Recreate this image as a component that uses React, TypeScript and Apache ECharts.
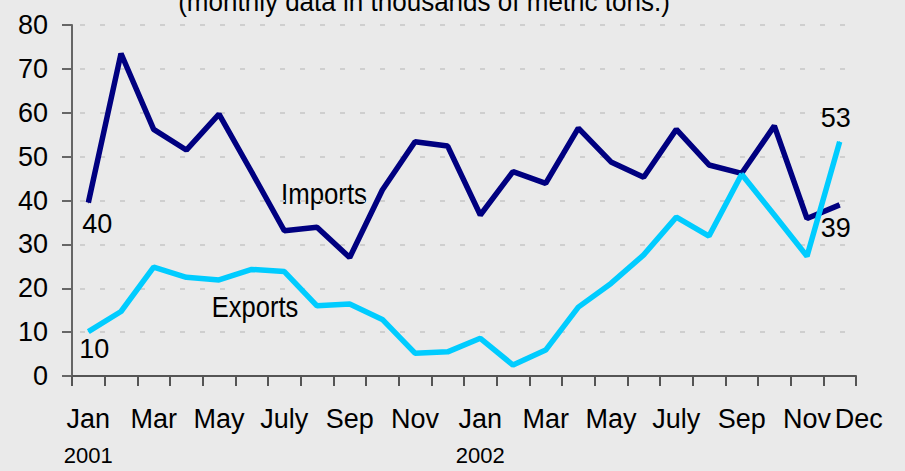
import React, { useEffect, useRef } from "react";
import * as echarts from "echarts";

const categories = [
  "Jan 2001", "Feb 2001", "Mar 2001", "Apr 2001", "May 2001", "Jun 2001",
  "Jul 2001", "Aug 2001", "Sep 2001", "Oct 2001", "Nov 2001", "Dec 2001",
  "Jan 2002", "Feb 2002", "Mar 2002", "Apr 2002", "May 2002", "Jun 2002",
  "Jul 2002", "Aug 2002", "Sep 2002", "Oct 2002", "Nov 2002", "Dec 2002",
];
const tickLabels = [
  "Jan", "", "Mar", "", "May", "", "July", "", "Sep", "", "Nov", "",
  "Jan", "", "Mar", "", "May", "", "July", "", "Sep", "", "Nov", "Dec",
];
const yearLabels = [
  "2001", "", "", "", "", "", "", "", "", "", "", "",
  "2002", "", "", "", "", "", "", "", "", "", "", "",
];
const imports = [
  39.5, 73.5, 56.2, 51.5, 59.7, 46.5, 33.1, 33.9, 27.0, 42.4, 53.4, 52.4,
  36.7, 46.6, 43.9, 56.5, 48.8, 45.3, 56.2, 48.1, 46.2, 57.0, 35.9, 39.0,
];
const exportsData = [
  10.1, 14.7, 24.8, 22.5, 21.9, 24.3, 23.8, 16.0, 16.4, 12.9, 5.2, 5.5,
  8.6, 2.5, 5.9, 15.7, 21.1, 27.6, 36.2, 31.9, 46.0, 36.7, 27.3, 53.4,
];
const yTicks = { min: 0, max: 80, interval: 10 };
const titleText = "(monthly data in thousands of metric tons.)";

const FONT = '"Liberation Sans Narrow", "Arial Narrow", "Liberation Sans", Arial, sans-serif';

export default function App() {
  const ref = useRef<HTMLDivElement>(null);
  useEffect(() => {
    if (!ref.current) return;
    const chart = echarts.init(ref.current, null, { renderer: "svg" });
    const last = categories.length - 1;
    const mkData = (vals: number[], firstPos: string, lastPos: string, firstOff: number[], lastOff: number[]) =>
      vals.map((v, i) => {
        if (i === 0)
          return { value: v, label: { show: true, position: firstPos, offset: firstOff, formatter: String(Math.round(v)) } };
        if (i === last)
          return { value: v, label: { show: true, position: lastPos, offset: lastOff, formatter: String(Math.round(v)) } };
        return v;
      });
    chart.setOption({
      animation: false,
      backgroundColor: "#eaeaea",
      grid: { left: 72, right: 49, top: 25, bottom: 95 },
      xAxis: {
        type: "category",
        data: categories,
        boundaryGap: true,
        axisLine: { show: true, lineStyle: { color: "#555555", width: 2 } },
        axisTick: { show: true, interval: 0, length: 10, lineStyle: { color: "#555555", width: 2 } },
        splitLine: { show: false },
        axisLabel: {
          interval: 0,
          margin: 28,
          formatter: (_v: string, i: number) => {
            const t = tickLabels[i];
            if (!t) return "";
            if (i === last) return "{d|" + t + "}";
            if (yearLabels[i]) return "{m|" + t + "}\n{y|" + yearLabels[i] + "}";
            return "{m|" + t + "}";
          },
          rich: {
            m: { fontSize: 27, fontFamily: FONT, color: "#000", lineHeight: 30 },
            y: { fontSize: 22, fontFamily: FONT, color: "#000", lineHeight: 42 },
            d: { fontSize: 27, fontFamily: FONT, color: "#000", lineHeight: 30, padding: [0, 0, 0, 38] },
          },
        },
      },
      yAxis: {
        type: "value",
        min: yTicks.min,
        max: yTicks.max,
        interval: yTicks.interval,
        axisLine: { show: true, lineStyle: { color: "#666666", width: 2 } },
        axisTick: { show: true, length: 10, lineStyle: { color: "#666666", width: 2 } },
        axisLabel: { margin: 24, fontSize: 27, fontFamily: FONT, color: "#000" },
        splitLine: { show: true, lineStyle: { color: "#cfcfcf", width: 2, type: [5, 15], dashOffset: 12 } },
      },
      series: [
        {
          name: "Imports",
          type: "line",
          data: mkData(imports, "bottom", "bottom", [9, 4], [-4, 6]),
          showSymbol: true,
          symbol: "circle",
          symbolSize: 1,
          lineStyle: { color: "#000080", width: 5.5 },
          itemStyle: { color: "#000080" },
          label: { show: false, fontSize: 27, fontFamily: FONT, color: "#000", distance: 3 },
        },
        {
          name: "Exports",
          type: "line",
          data: mkData(exportsData, "bottom", "top", [6, 0], [-4, -7]),
          showSymbol: true,
          symbol: "circle",
          symbolSize: 1,
          lineStyle: { color: "#00ccff", width: 5.5 },
          itemStyle: { color: "#00ccff" },
          label: { show: false, fontSize: 27, fontFamily: FONT, color: "#000", distance: 3 },
        },
      ],
      graphic: [
        {
          type: "text",
          x: 424,
          y: 2,
          scaleX: 0.93,
          style: { text: titleText, font: "28px " + FONT, fill: "#000", align: "center", verticalAlign: "middle" },
        },
        {
          type: "text",
          x: 324,
          y: 194,
          scaleX: 0.86,
          style: { text: "Imports", font: "30px " + FONT, fill: "#000", align: "center", verticalAlign: "middle" },
        },
        {
          type: "text",
          x: 255,
          y: 307,
          scaleX: 0.85,
          style: { text: "Exports", font: "30px " + FONT, fill: "#000", align: "center", verticalAlign: "middle" },
        },
      ],
    });
    return () => chart.dispose();
  }, []);
  return <div ref={ref} style={{ position: "fixed", left: 0, top: 0, width: 905, height: 471 }} />;
}
